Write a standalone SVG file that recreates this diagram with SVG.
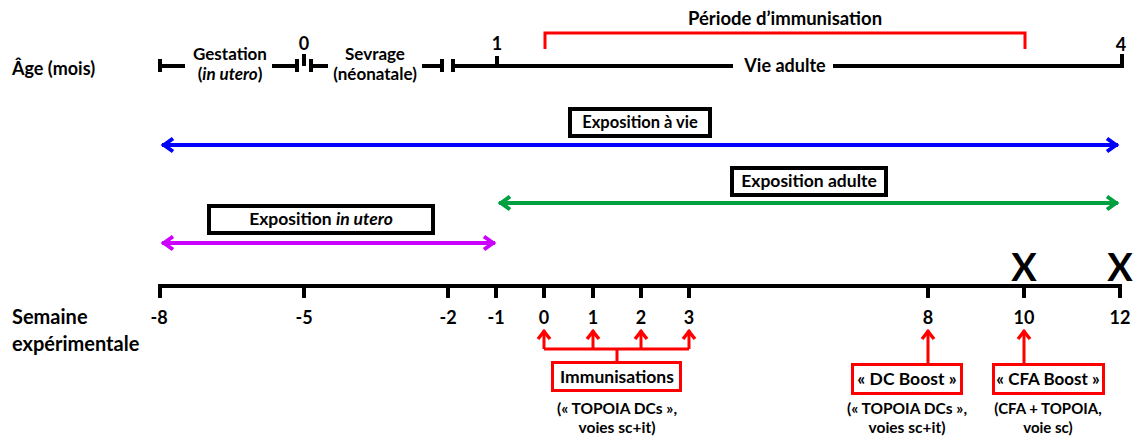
<svg xmlns="http://www.w3.org/2000/svg" width="1133" height="438" viewBox="0 0 1133 438">
<style>
text{font-family:Lato,"Open Sans","Liberation Sans",sans-serif;font-weight:bold;fill:#000}
.lbl{font-size:18px}
.t{font-size:17px;text-anchor:middle}
.m{font-size:17.5px;text-anchor:middle}
.n{font-size:18px;text-anchor:middle}
.s{font-size:15.5px;text-anchor:middle}
.k{stroke:#000;stroke-width:4;fill:none}
.bx{fill:#fff;stroke:#000;stroke-width:4}
.rb{fill:#fff;stroke:#f00;stroke-width:3}
.r{stroke:#f00;stroke-width:3;fill:none}
</style>
<defs>
<marker id="hb" markerUnits="userSpaceOnUse" markerWidth="24" markerHeight="24" viewBox="-16 -12 20 24" refX="0" refY="0" orient="auto-start-reverse"><path d="M-11,-6.5 L-2,0 L-11,6.5" fill="none" stroke="#0000ff" stroke-width="4"/></marker>
<marker id="hg" markerUnits="userSpaceOnUse" markerWidth="24" markerHeight="24" viewBox="-16 -12 20 24" refX="0" refY="0" orient="auto-start-reverse"><path d="M-11,-6.5 L-2,0 L-11,6.5" fill="none" stroke="#00a040" stroke-width="4"/></marker>
<marker id="hp" markerUnits="userSpaceOnUse" markerWidth="24" markerHeight="24" viewBox="-16 -12 20 24" refX="0" refY="0" orient="auto-start-reverse"><path d="M-11,-6.5 L-2,0 L-11,6.5" fill="none" stroke="#cc00ff" stroke-width="4"/></marker>
<marker id="hr" markerUnits="userSpaceOnUse" markerWidth="24" markerHeight="24" viewBox="-16 -12 20 24" refX="0" refY="0" orient="auto"><path d="M-9,-6 L-1.5,0 L-9,6" fill="none" stroke="#f00" stroke-width="3.5"/></marker>
</defs>

<g id="labels">
<text class="lbl" x="12" y="75">Âge (mois)</text>
<text x="12" y="324" style="font-size:20px">Semaine</text>
<text x="12" y="351" style="font-size:20px">expérimentale</text>
</g>

<g id="age-timeline">
<path class="k" d="M160,59V72M160,66H185M272,66H297M297,59V72M304,54V66M311,59V72M311,66H328M422,66H442M442,59V72M453,59V72M453,66H733M497,56V66M833,66H1122M1122,54V68"/>
<text class="t" x="230" y="60">Gestation</text>
<text class="t" x="230" y="80">(<tspan font-style="italic">in utero</tspan>)</text>
<text class="t" x="375" y="60">Sevrage</text>
<text class="t" x="375" y="80">(néonatale)</text>
<text class="n" x="304" y="50">0</text>
<text class="n" x="497" y="50">1</text>
<text class="n" x="1121" y="51">4</text>
<text class="t" x="785" y="72" style="font-size:18px">Vie adulte</text>
</g>

<g id="periode">
<path class="r" d="M545,49V33H1025V49"/>
<text class="t" x="785" y="25" style="font-size:18.5px">Période d’immunisation</text>
</g>

<g id="connectors">
<line x1="162" y1="145" x2="1118" y2="145" stroke="#0000ff" stroke-width="4" marker-start="url(#hb)" marker-end="url(#hb)"/>
<line x1="499" y1="203" x2="1118" y2="203" stroke="#00a040" stroke-width="4" marker-start="url(#hg)" marker-end="url(#hg)"/>
<line x1="162" y1="243" x2="495" y2="243" stroke="#cc00ff" stroke-width="4" marker-start="url(#hp)" marker-end="url(#hp)"/>
<path class="r" d="M617,361V349M544,349H689"/>
<path class="r" d="M544,349V330" marker-end="url(#hr)"/>
<path class="r" d="M593,349V330" marker-end="url(#hr)"/>
<path class="r" d="M641,349V330" marker-end="url(#hr)"/>
<path class="r" d="M689,349V330" marker-end="url(#hr)"/>
<path class="r" d="M928,364V330" marker-end="url(#hr)"/>
<path class="r" d="M1024,364V330" marker-end="url(#hr)"/>
</g>

<g id="expo-vie">
<rect class="bx" x="570" y="109" width="140" height="27"/>
<text class="m" x="640" y="128" style="font-size:16.5px">Exposition à vie</text>
</g>
<g id="expo-adulte">
<rect class="bx" x="732" y="168" width="154" height="27"/>
<text class="m" x="809" y="187">Exposition adulte</text>
</g>
<g id="expo-utero">
<rect class="bx" x="209" y="206" width="224" height="27"/>
<text class="m" x="321" y="225">Exposition <tspan font-style="italic">in utero</tspan></text>
</g>

<g id="week-axis">
<path class="k" d="M158,286H1122M160,286V298M304,286V298M448,286V298M496,286V298M544,286V298M593,286V298M641,286V298M689,286V298M928,286V298M1024,286V298M1120,286V298"/>
<text class="n" x="159" y="324">-8</text>
<text class="n" x="304" y="324">-5</text>
<text class="n" x="448" y="324">-2</text>
<text class="n" x="496" y="324">-1</text>
<text class="n" x="544" y="324">0</text>
<text class="n" x="593" y="324">1</text>
<text class="n" x="641" y="324">2</text>
<text class="n" x="689" y="324">3</text>
<text class="n" x="928" y="324">8</text>
<text class="n" x="1024" y="324">10</text>
<text class="n" x="1120" y="324">12</text>
<text x="1024" y="281" font-size="38" text-anchor="middle">X</text>
<text x="1120" y="281" font-size="38" text-anchor="middle">X</text>
</g>

<g id="immunisations">
<rect class="rb" x="552.5" y="362.5" width="128" height="28"/>
<text class="m" x="617" y="383">Immunisations</text>
<text class="s" x="617" y="414">(« TOPOIA DCs »,</text>
<text class="s" x="617" y="433">voies sc+it)</text>
</g>
<g id="dc-boost">
<rect class="rb" x="852.5" y="364.5" width="109" height="29"/>
<text class="m" x="907" y="385">« DC Boost »</text>
<text class="s" x="907" y="414">(« TOPOIA DCs »,</text>
<text class="s" x="907" y="433">voies sc+it)</text>
</g>
<g id="cfa-boost">
<rect class="rb" x="993.5" y="364.5" width="110" height="29"/>
<text class="m" x="1048" y="385" style="font-size:17px">« CFA Boost »</text>
<text class="s" x="1048" y="414" style="font-size:15px">(CFA + TOPOIA,</text>
<text class="s" x="1048" y="433" style="font-size:15px">voie sc)</text>
</g>
</svg>
